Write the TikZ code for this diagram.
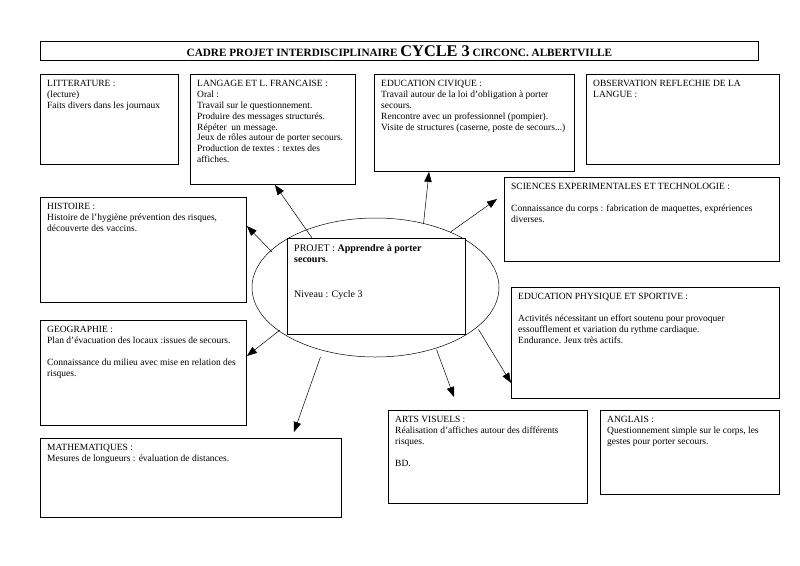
\documentclass[tikz,border=0pt]{standalone}
\usepackage{fontspec}
\setmainfont{Liberation Serif}
\usepackage{tikz}
\usetikzlibrary{arrows.meta,shapes.geometric}

\begin{document}
\begin{tikzpicture}[
    x=1pt,y=-1pt,
    box/.style={draw,rectangle,line width=0.9pt,anchor=north west,inner sep=0pt},
    txt/.style={anchor=north west,inner sep=0pt,align=left,
                font=\fontsize{9.5}{10.9}\selectfont},
    arr/.style={-{Triangle[length=10pt,width=7.5pt]},line width=0.5pt}
  ]
  \useasboundingbox (0,0) rectangle (800,565);
  % title
  \node[box,minimum width=718,minimum height=19] (title) at (40,41)
    {\bfseries\fontsize{11.2}{13}\selectfont CADRE PROJET INTERDISCIPLINAIRE
     {\fontsize{16.3}{16}\selectfont CYCLE 3} CIRCONC. ALBERTVILLE};
  % boxes
  \node[box,minimum width=138,minimum height=90]  (litt) at (40,74)  {};
  \node[box,minimum width=165,minimum height=110] (lang) at (190,74) {};
  \node[box,minimum width=200,minimum height=97]  (civ)  at (374,74) {};
  \node[box,minimum width=193,minimum height=90]  (obs)  at (586,74) {};
  \node[box,minimum width=275,minimum height=84]  (sci)  at (504,177) {};
  \node[box,minimum width=206,minimum height=105] (hist) at (40,197) {};
  \node[box,minimum width=268,minimum height=111] (eps)  at (511,287) {};
  \node[box,minimum width=206,minimum height=105] (geo)  at (40,320) {};
  \node[box,minimum width=301,minimum height=79]  (math) at (40,438) {};
  \node[box,minimum width=199,minimum height=93]  (arts) at (388,410) {};
  \node[box,minimum width=179,minimum height=84]  (angl) at (600,410) {};
  % centre
  \node[draw,ellipse,line width=0.5pt,minimum width=247,minimum height=139,
        inner sep=0pt] (ell) at (375.5,287.5) {};
  \node[box,fill=white,minimum width=178,minimum height=96] (proj) at (287,238) {};
  % texts
  \node[txt] at ([shift={(7,6)}]litt.north west)
    {LITTERATURE :\\(lecture)\\Faits divers dans les journaux};
  \node[txt] at ([shift={(7,6)}]lang.north west)
    {LANGAGE ET L. FRANCAISE :\\Oral :\\Travail sur le questionnement.\\
     Produire des messages structurés.\\Répéter~ un message.\\
     Jeux de rôles autour de porter secours.\\
     Production de textes : textes des\\affiches.};
  \node[txt] at ([shift={(7,6)}]civ.north west)
    {EDUCATION CIVIQUE :\\Travail autour de la loi d'obligation à porter\\
     secours.\\Rencontre avec un professionnel (pompier).\\
     Visite de structures (caserne, poste de secours...)};
  \node[txt] at ([shift={(7,6)}]obs.north west)
    {OBSERVATION REFLECHIE DE LA\\LANGUE :};
  \node[txt] at ([shift={(7,6)}]sci.north west)
    {SCIENCES EXPERIMENTALES ET TECHNOLOGIE :\\[10.9pt]
     Connaissance du corps : fabrication de maquettes, exprériences\\diverses.};
  \node[txt] at ([shift={(7,6)}]hist.north west)
    {HISTOIRE :\\Histoire de l'hygiène prévention des risques,\\
     découverte des vaccins.};
  \node[txt] at ([shift={(7,6)}]eps.north west)
    {EDUCATION PHYSIQUE ET SPORTIVE :\\[10.9pt]
     Activités nécessitant un effort soutenu pour provoquer\\
     essoufflement et variation du rythme cardiaque.\\
     Endurance. Jeux très actifs.};
  \node[txt] at ([shift={(7,6)}]geo.north west)
    {GEOGRAPHIE :\\Plan d'évacuation des locaux :issues de secours.\\[10.9pt]
     Connaissance du milieu avec mise en relation des\\risques.};
  \node[txt] at ([shift={(7,6)}]math.north west)
    {MATHEMATIQUES :\\Mesures de longueurs : évaluation de distances.};
  \node[txt] at ([shift={(7,6)}]arts.north west)
    {ARTS VISUELS :\\Réalisation d'affiches autour des différents\\
     risques.\\[10.9pt]BD.};
  \node[txt] at ([shift={(7,6)}]angl.north west)
    {ANGLAIS :\\Questionnement simple sur le corps, les\\
     gestes pour porter secours.};
  \node[txt,font=\fontsize{10}{11.6}\selectfont] at ([shift={(7,6)}]proj.north west)
    {PROJET : \textbf{Apprendre à porter}\\\textbf{secours}.\\[23.2pt]
     Niveau : Cycle 3};
  % arrows
  \draw[arr] ([shift={(25,0)}]proj.north west) -- ([shift={(85,0)}]lang.south west);
  \draw[arr] ([shift={(48,-63.5)}]ell.center) -- ([shift={(55,0)}]civ.south west);
  \draw[arr] ([shift={(75,-55.5)}]ell.center) -- ([shift={(-7,22)}]sci.north west);
  \draw[arr] ([shift={(-103.5,-35.5)}]ell.center) -- ([shift={(0,29)}]hist.north east);
  \draw[arr] ([shift={(-95.5,42.5)}]ell.center) -- ([shift={(0,36)}]geo.north east);
  \draw[arr] ([shift={(-55,69.5)}]ell.center) -- ([shift={(254,-6)}]math.north west);
  \draw[arr] ([shift={(61,62)}]ell.center) -- ([shift={(66,-13)}]arts.north west);
  \draw[arr] ([shift={(103,42)}]ell.center) -- ([shift={(0,-16)}]eps.south west);
\end{tikzpicture}
\end{document}
